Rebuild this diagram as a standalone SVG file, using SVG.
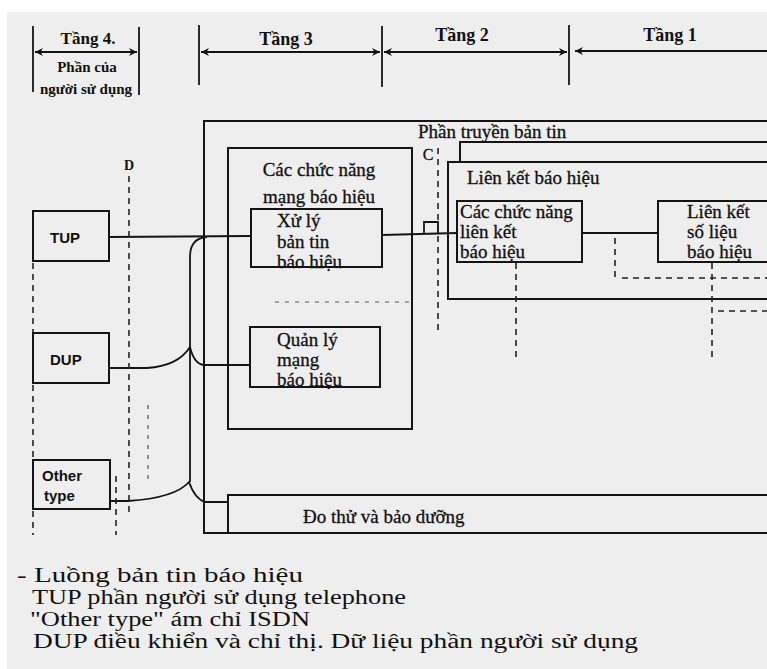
<svg xmlns="http://www.w3.org/2000/svg" width="767" height="669" viewBox="0 0 767 669">
<defs>
<marker id="ah" viewBox="0 0 10 10" refX="10" refY="5" markerWidth="10" markerHeight="8" markerUnits="userSpaceOnUse" orient="auto-start-reverse"><path d="M0,0 L10,5 L0,10 L3,5 z" fill="#111"/></marker>
</defs>
<style>
.bx{fill:none;stroke:#141414;stroke-width:2}
.ln{fill:none;stroke:#141414;stroke-width:1.8}
.ar{fill:none;stroke:#141414;stroke-width:1.8;marker-start:url(#ah);marker-end:url(#ah)}
.ds{fill:none;stroke:#222;stroke-width:1.6;stroke-dasharray:6 5}
.dl{fill:none;stroke:#555;stroke-width:1.2;stroke-dasharray:4 6}
.sf{font-family:"Liberation Serif","Times New Roman",serif;fill:#111;stroke:#111;stroke-width:0.3}
.sb{font-family:"Liberation Serif","Times New Roman",serif;font-weight:bold;fill:#111}
.ss{font-family:"Liberation Sans",Arial,sans-serif;font-weight:bold;fill:#111}
.lg{font-family:"Liberation Serif","Times New Roman",serif;fill:#111}
</style>
<rect width="767" height="669" fill="#ffffff"/>
<rect x="7" y="12" width="760" height="657" fill="#eeeeee"/>

<g id="layers">
<line class="ln" x1="33" y1="26" x2="33" y2="92"/>
<line class="ln" x1="139" y1="27" x2="139" y2="95"/>
<line class="ar" x1="35" y1="52" x2="137" y2="52"/>
<text class="sb" x="88" y="44" font-size="17" text-anchor="middle">Tầng 4.</text>
<text class="sb" x="87" y="72" font-size="15" text-anchor="middle">Phần của</text>
<text class="sb" x="86" y="94" font-size="15" text-anchor="middle">người sử dụng</text>
<line class="ln" x1="199" y1="25" x2="199" y2="85"/>
<line class="ln" x1="382" y1="26" x2="382" y2="87"/>
<line class="ar" x1="201" y1="52" x2="380" y2="52"/>
<text class="sb" x="286" y="45" font-size="18" text-anchor="middle">Tầng 3</text>
<line class="ar" x1="384" y1="52" x2="567" y2="52"/>
<text class="sb" x="462" y="41" font-size="18" text-anchor="middle">Tầng 2</text>
<line class="ln" x1="569" y1="25" x2="569" y2="85"/>
<path class="ln" d="M767 51 L575 51" marker-end="url(#ah)"/>
<text class="sb" x="670" y="41" font-size="18" text-anchor="middle">Tầng 1</text>
</g>

<g id="message-transfer">
<rect class="bx" x="204" y="121" width="620" height="412"/>
<text class="sf" x="418" y="138" font-size="19">Phần truyền bản tin</text>
</g>

<g id="network-functions">
<rect class="bx" x="228" y="148" width="184" height="281"/>
<text class="sf" x="319" y="176" font-size="19" text-anchor="middle">Các chức năng</text>
<text class="sf" x="319" y="203" font-size="19" text-anchor="middle">mạng báo hiệu</text>
</g>

<g id="message-handling">
<rect class="bx" x="251" y="209" width="131" height="58"/>
<text class="sf" x="277" y="227" font-size="19">Xử lý</text>
<text class="sf" x="277" y="248" font-size="19">bản tin</text>
<text class="sf" x="277" y="268" font-size="19">báo hiệu</text>
</g>

<g id="network-management">
<rect class="bx" x="250" y="327" width="130" height="60"/>
<text class="sf" x="277" y="346" font-size="19">Quản lý</text>
<text class="sf" x="277" y="366" font-size="19">mạng</text>
<text class="sf" x="277" y="386" font-size="19">báo hiệu</text>
</g>

<g id="signalling-link">
<path class="bx" d="M460 162 L460 142 L767 142"/>
<rect class="bx" x="448" y="162" width="400" height="137"/>
<text class="sf" x="467" y="184" font-size="19">Liên kết báo hiệu</text>
</g>

<g id="link-functions">
<rect class="bx" x="457" y="201" width="125" height="61"/>
<text class="sf" x="460" y="218" font-size="19">Các chức năng</text>
<text class="sf" x="460" y="238" font-size="19">liên kết</text>
<text class="sf" x="460" y="258" font-size="19">báo hiệu</text>
</g>

<g id="data-link">
<rect class="bx" x="658" y="201" width="200" height="61"/>
<text class="sf" x="687" y="218" font-size="19">Liên kết</text>
<text class="sf" x="687" y="238" font-size="19">số liệu</text>
<text class="sf" x="687" y="258" font-size="19">báo hiệu</text>
</g>

<g id="testing">
<rect class="bx" x="228" y="495" width="600" height="38"/>
<text class="sf" x="303" y="523" font-size="19">Đo thử và bảo dưỡng</text>
</g>

<g id="tup">
<rect class="bx" x="33" y="211" width="76" height="50"/>
<text class="ss" x="50" y="243" font-size="15">TUP</text>
</g>
<g id="dup">
<rect class="bx" x="33" y="333" width="76" height="50"/>
<text class="ss" x="50" y="365" font-size="15">DUP</text>
</g>
<g id="other-type">
<rect class="bx" x="33" y="460" width="77" height="49"/>
<text class="ss" x="42" y="481" font-size="15">Other</text>
<text class="ss" x="44" y="501" font-size="15">type</text>
</g>

<g id="connectors">
<path class="ln" d="M109 237 L251 236"/>
<path class="ln" d="M382 235 L457 233"/>
<path class="ln" d="M424 233 L424 222 L438 222 L438 233"/>
<path class="ln" d="M582 233 L658 233"/>
<path class="ln" d="M207 237 Q190 238 190 257 L190 482"/>
<path class="ln" d="M109 368 L147 368 Q178 366 190 347 Q194 364 204 365 L250 365"/>
<path class="ln" d="M110 501 L128 501 Q175 498 189 482 Q195 499 205 502 L228 502"/>
</g>

<g id="boundaries">
<line class="ds" x1="33" y1="263" x2="33" y2="332"/>
<line class="ds" x1="33" y1="385" x2="33" y2="459"/>
<line class="ds" x1="33" y1="511" x2="33" y2="535"/>
<line class="ds" x1="129" y1="176" x2="129" y2="512"/>
<line class="ds" x1="116" y1="476" x2="116" y2="535"/>
<line class="dl" x1="148" y1="405" x2="148" y2="480"/>
<line class="ds" x1="438" y1="148" x2="438" y2="330"/>
<line class="ds" x1="516" y1="263" x2="516" y2="360"/>
<line class="ds" x1="615" y1="238" x2="615" y2="282"/>
<line class="ds" x1="712" y1="263" x2="712" y2="357"/>
<line class="ds" x1="622" y1="278" x2="767" y2="278"/>
<line class="ds" x1="718" y1="311" x2="767" y2="311"/>
<line class="dl" x1="275" y1="302" x2="410" y2="302"/>
<text class="sb" x="129" y="170" font-size="14" text-anchor="middle">D</text>
<text class="sf" x="428" y="160" font-size="16" text-anchor="middle">C</text>
</g>

<g id="legend">
<text class="lg" x="17" y="582" font-size="20" textLength="286" lengthAdjust="spacingAndGlyphs">-  Luồng bản tin báo hiệu</text>
<text class="lg" x="32" y="604" font-size="20" textLength="374" lengthAdjust="spacingAndGlyphs">TUP phần người sử dụng telephone</text>
<text class="lg" x="30" y="626" font-size="20" textLength="280" lengthAdjust="spacingAndGlyphs">"Other type" ám chỉ ISDN</text>
<text class="lg" x="33" y="648" font-size="20" textLength="605" lengthAdjust="spacingAndGlyphs">DUP  điều khiển và chỉ thị. Dữ liệu phần người sử dụng</text>
</g>
</svg>
